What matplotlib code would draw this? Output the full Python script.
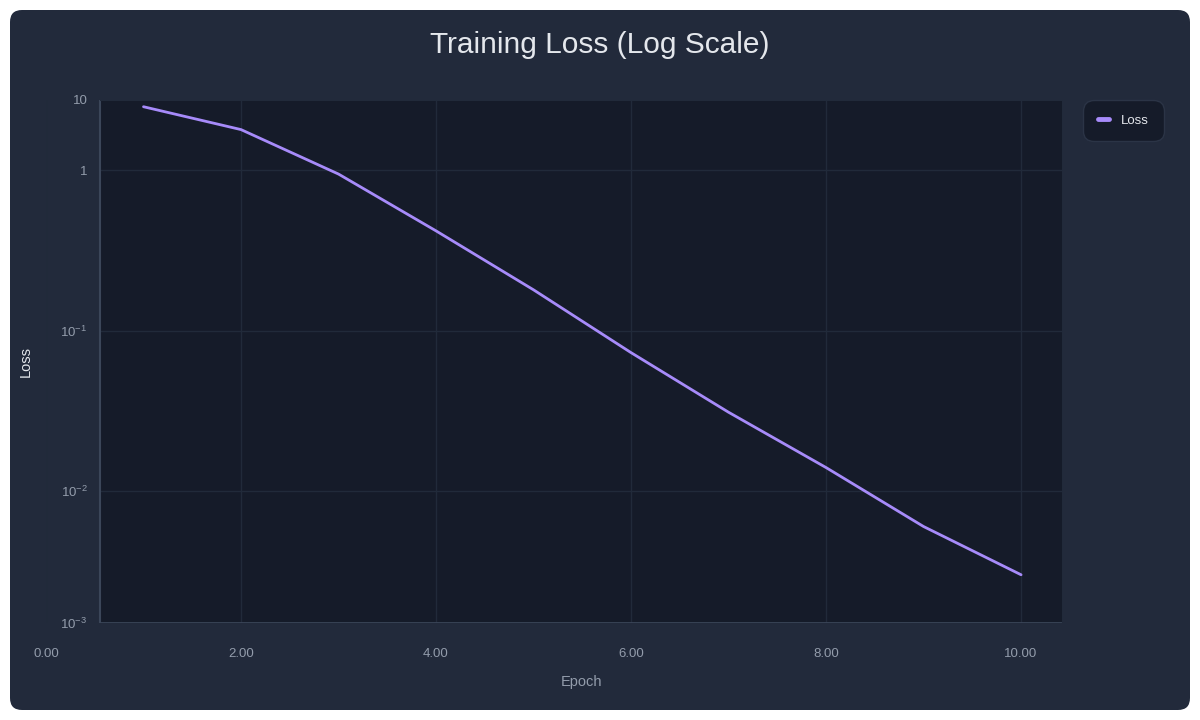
import numpy as np
import matplotlib.pyplot as plt
from matplotlib.patches import FancyBboxPatch
from matplotlib.lines import Line2D

plt.rcParams['font.family'] = ['Liberation Sans', 'DejaVu Sans']

epochs = [1, 2, 3, 4, 5, 6, 7, 8, 9, 10]
loss = [2.5, 1.8, 0.95, 0.42, 0.18, 0.073, 0.031, 0.014, 0.006, 0.003]

x_ticks = [0, 2, 4, 6, 8, 10]
x_labels = ['0.00', '2.00', '4.00', '6.00', '8.00', '10.00']
y_ticks = [2.754, 1, 0.1, 0.01, 0.0015]
y_labels = ['10', '1', r'$\mathregular{10^{-1}}$', r'$\mathregular{10^{-2}}$', r'$\mathregular{10^{-3}}$']

card = '#222a3b'
plot_bg = '#151b29'
grid_c = '#212a3a'
border_c = '#3b4659'
tick_c = '#939cab'
text_c = '#e4e7ec'
line_c = '#a78bfa'

fig = plt.figure(figsize=(12, 7.2), dpi=100, facecolor='white')

# rounded card behind everything
bg = fig.add_axes([0, 0, 1, 1])
bg.set_xlim(0, 1200)
bg.set_ylim(720, 0)
bg.axis('off')
bg.add_patch(FancyBboxPatch((10, 10), 1180, 700, boxstyle='round,pad=0,rounding_size=12',
                            fc=card, ec='none'))

ax = fig.add_axes([46 / 1200, 97 / 720, 1017 / 1200, 523 / 720])
ax.set_facecolor(card)
for s in ax.spines.values():
    s.set_visible(False)

xmin, xmax = 0, 10.43
x0 = 0.554  # where the y-axis frame starts
ymin, ymax = 0.0015, 2.754
ax.set_xlim(xmin, xmax)
ax.set_yscale('log')
ax.set_ylim(ymin, ymax)

ax.axvspan(x0, xmax, color=plot_bg, zorder=0, lw=0)
for v in [1, 0.1, 0.01]:
    ax.hlines(v, x0, xmax, color=grid_c, lw=1, zorder=1)
for v in x_ticks:
    ax.axvline(v, color=grid_c, lw=1, zorder=1)
ax.vlines(x0, ymin, ymax, color=border_c, lw=1.5, zorder=2)
ax.hlines(ymin, x0, xmax, color=border_c, lw=2, zorder=2)
ax.vlines(xmax, ymin, ymax, color=grid_c, lw=1.5, zorder=2)
ax.hlines(ymax, x0, xmax, color=grid_c, lw=1.5, zorder=2)

ax.plot(epochs, loss, color=line_c, lw=2, zorder=3, solid_capstyle='round')

ax.set_xticks(x_ticks)
ax.set_xticklabels(x_labels)
ax.set_yticks(y_ticks)
ax.set_yticklabels(y_labels)
ax.yaxis.set_minor_locator(plt.NullLocator())
ax.tick_params(axis='both', length=0, colors=tick_c, labelsize=9.5)
ax.tick_params(axis='x', pad=18)
ax.tick_params(axis='y', pad=9)
for lbl in ax.get_yticklabels():
    lbl.set_x(x0 / xmax)

ax.set_xlabel('Epoch', color=tick_c, fontsize=10.5)
ax.xaxis.set_label_coords((581.5 - 46) / 1017, -52 / 523)
ax.set_ylabel('Loss', color=text_c, fontsize=10.5)
ax.yaxis.set_label_coords((33 - 46) / 1017, 0.5)

fig.text(0.5, 1 - 45 / 720, 'Training Loss (Log Scale)', ha='center', va='center',
         color=text_c, fontsize=21.5)

handle = Line2D([], [], color=line_c, lw=3.5, solid_capstyle='round')
leg = ax.legend([handle], ['Loss'], loc='upper left', bbox_to_anchor=(1083 / 1200, 1 - 100 / 720),
                bbox_transform=fig.transFigure, fontsize=9.5, frameon=True, fancybox=True,
                handlelength=0.9, handletextpad=0.9, borderpad=1.1, borderaxespad=0)
leg.get_frame().set_facecolor(plot_bg)
leg.get_frame().set_edgecolor('#2b3446')
leg.get_frame().set_alpha(1)
leg.get_frame().set_boxstyle('round,pad=0,rounding_size=0.8')
for t in leg.get_texts():
    t.set_color(text_c)

fig.savefig('out.png', dpi=100, facecolor='white')
